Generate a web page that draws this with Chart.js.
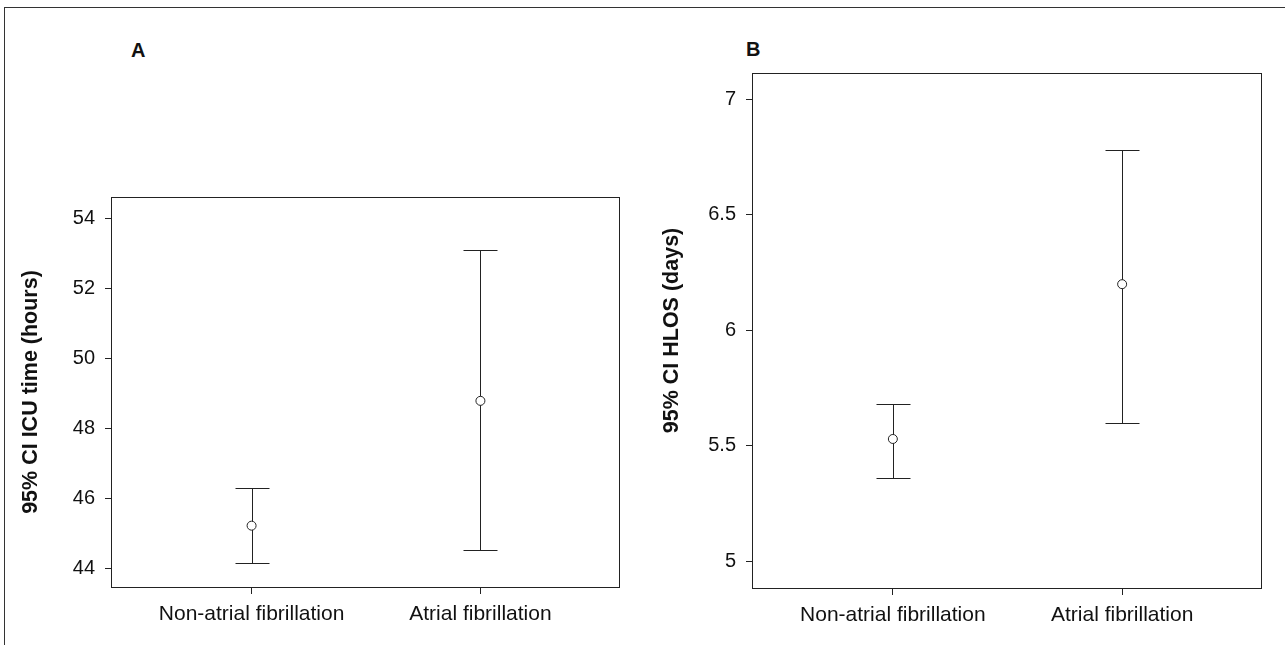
<!DOCTYPE html>
<html>
<head>
<meta charset="utf-8">
<script src="https://cdn.jsdelivr.net/npm/chart.js@4.4.1/dist/chart.umd.min.js"></script>
<style>
  body { margin: 0; background: #fff; }
  .page { position: relative; width: 1285px; height: 645px; overflow: hidden; font-family: "Liberation Sans", Arial, sans-serif; }
  .frame { position: absolute; left: 4px; top: 7px; right: -2px; bottom: -2px; border-top: 1px solid #333; border-left: 1px solid #333; }
  .letter { position: absolute; font-weight: bold; font-size: 20px; line-height: 20px; color: #111; }
  canvas { position: absolute; top: 0; }
</style>
</head>
<body>
<div class="page">
  <div class="frame"></div>
  <div class="letter" style="left:131px; top:40px;">A</div>
  <div class="letter" style="left:746px; top:39px;">B</div>
  <canvas id="chartA" width="640" height="645" style="left:0"></canvas>
  <canvas id="chartB" width="645" height="645" style="left:640px"></canvas>
</div>
<script>
const categories = ["Non-atrial fibrillation", "Atrial fibrillation"];
const catPos = [1, 2];

// A: ICU time (hours)
const icuMean = [45.22, 48.79];
const icuLower = [44.15, 44.53];
const icuUpper = [46.29, 53.1];
const icuTicks = [44, 46, 48, 50, 52, 54];

// B: HLOS (days)
const hlosMean = [5.53, 6.2];
const hlosLower = [5.36, 5.6];
const hlosUpper = [5.68, 6.78];
const hlosTicks = [5, 5.5, 6, 6.5, 7];

const family = '"Liberation Sans", Arial, sans-serif';
const ink = "#222";

// vertical CI line with caps, drawn under the mean point
const errorBarPlugin = {
  id: "errorBars",
  beforeDatasetsDraw(chart, args, opts) {
    const { ctx } = chart;
    const x = chart.scales.x;
    const y = chart.scales.y;
    ctx.save();
    ctx.strokeStyle = ink;
    ctx.lineWidth = 1;
    opts.lower.forEach((lo, i) => {
      const px = Math.round(x.getPixelForValue(catPos[i])) + 0.5;
      const top = Math.round(y.getPixelForValue(opts.upper[i])) + 0.5;
      const bot = Math.round(y.getPixelForValue(lo)) + 0.5;
      ctx.beginPath();
      ctx.moveTo(px, top);
      ctx.lineTo(px, bot);
      ctx.moveTo(px - 17, top);
      ctx.lineTo(px + 17, top);
      ctx.moveTo(px - 17, bot);
      ctx.lineTo(px + 17, bot);
      ctx.stroke();
    });
    ctx.restore();
  },
};

// full box round the plot area
const boxPlugin = {
  id: "plotBox",
  afterDraw(chart) {
    const { ctx, chartArea: a } = chart;
    ctx.save();
    ctx.strokeStyle = ink;
    ctx.lineWidth = 1;
    ctx.strokeRect(a.left - 0.5, a.top + 0.5, a.right - a.left, a.bottom - a.top);
    ctx.restore();
  },
};

const makePanel = (id, yTitle, yMin, yMax, yTicks, mean, lower, upper, yWidth, pad, titlePad) => {
  return new Chart(document.getElementById(id), {
    type: "scatter",
    data: {
      datasets: [
        {
          data: mean.map((m, i) => ({ x: catPos[i], y: m })),
          pointRadius: 4.5,
          pointHoverRadius: 4.5,
          pointBackgroundColor: "#fff",
          pointBorderColor: ink,
          pointBorderWidth: 1,
        },
      ],
    },
    options: {
      responsive: false,
      animation: false,
      devicePixelRatio: 1,
      layout: { padding: pad },
      plugins: {
        legend: { display: false },
        tooltip: { enabled: false },
        errorBars: { lower: lower, upper: upper },
      },
      scales: {
        x: {
          type: "linear",
          min: 0.39,
          max: 2.61,
          afterBuildTicks: (s) => {
            s.ticks = catPos.map((v) => ({ value: v }));
          },
          afterFit: (s) => {
            s.height = 50;
          },
          grid: { drawOnChartArea: false, tickLength: 7, color: ink },
          border: { display: false },
          ticks: {
            callback: (v, i) => categories[i],
            font: { size: 21, family: family },
            color: "#111",
            padding: 8,
            maxRotation: 0,
            autoSkip: false,
          },
        },
        y: {
          min: yMin,
          max: yMax,
          afterBuildTicks: (s) => {
            s.ticks = yTicks.map((v) => ({ value: v }));
          },
          afterFit: (s) => {
            s.width = yWidth;
          },
          grid: { drawOnChartArea: false, tickLength: 7, color: ink },
          border: { display: false },
          ticks: {
            callback: (v) => String(v),
            font: { size: 20, family: family },
            color: "#111",
            padding: 10,
          },
          title: {
            display: true,
            text: yTitle,
            font: { size: 21.5, weight: "bold", family: family },
            color: "#111",
            padding: { top: titlePad, bottom: 0 },
          },
        },
      },
    },
    plugins: [errorBarPlugin, boxPlugin],
  });
};

makePanel("chartA", "95% CI ICU time (hours)", 43.466, 54.62, icuTicks, icuMean, icuLower, icuUpper, 102,
  { left: 10, top: 197, right: 20, bottom: 8 }, 8);
makePanel("chartB", "95% CI HLOS (days)", 4.885, 7.114, hlosTicks, hlosMean, hlosLower, hlosUpper, 103,
  { left: 10, top: 73, right: 23, bottom: 7 }, 9);
</script>
</body>
</html>
